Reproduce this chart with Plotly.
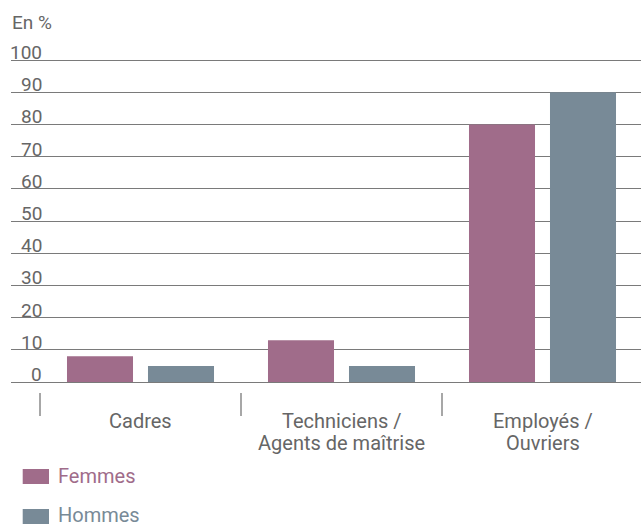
import plotly.graph_objects as go

categories = ["Cadres", "Techniciens /\nAgents de maîtrise", "Employés /\nOuvriers"]
series_names = ["Femmes", "Hommes"]
femmes = [8, 13, 80]
hommes = [5, 5, 90]
y_ticks = [0, 10, 20, 30, 40, 50, 60, 70, 80, 90, 100]
unit_label = "En %"

colors = {"Femmes": "#a06c8a", "Hommes": "#788a97"}
text_gray = "#666666"
font_family = "Roboto, DejaVu Sans, sans-serif"

W, H = 641, 524
ML, MR, MT, MB = 11, 0, 50, 142
PW, PH = W - ML - MR, H - MT - MB
CAT_PX = 201.0
Y0_PX, Y100_PX = H - MB, 60.0
UNIT_PX = (Y0_PX - Y100_PX) / 100.0
Y_TOP = (Y0_PX - MT) / UNIT_PX  # range top so that 100 sits at the reference position


def px_x(X):
    return (X - ML) / PW


def px_y(Y):
    return (H - MB - Y) / PH


x_idx = list(range(len(categories)))
x_left = -0.5 - (40 - ML) / CAT_PX
x_right = x_left + PW / CAT_PX

fig = go.Figure()
for name, vals in zip(series_names, [femmes, hommes]):
    fig.add_trace(go.Bar(x=x_idx, y=vals, name=name, marker=dict(color=colors[name], line=dict(width=0)),
                         showlegend=False))

shapes = []
# category separator ticks
for i in range(len(categories)):
    shapes.append(dict(type="line", xref="x", yref="paper", x0=i - 0.5, x1=i - 0.5,
                       y0=px_y(393), y1=px_y(416), line=dict(color="#8a8a8a", width=1.5)))
# legend swatches
leg_rows = [(469, 484), (509, 524)]
for name, (t, b) in zip(series_names, leg_rows):
    shapes.append(dict(type="rect", xref="paper", yref="paper", x0=px_x(22.7), x1=px_x(49),
                       y0=px_y(b), y1=px_y(t), fillcolor=colors[name], line=dict(width=0)))

annotations = []
# y tick labels
for v in y_ticks:
    annotations.append(dict(x=px_x(43.5), xref="paper", y=v, yref="y", text=str(v), showarrow=False,
                            xanchor="right", yanchor="middle", yshift=7.5,
                            font=dict(family=font_family, size=19, color=text_gray)))
# unit label
annotations.append(dict(x=px_x(10), xref="paper", y=px_y(22), yref="paper", text=unit_label, showarrow=False,
                        xanchor="left", yanchor="middle",
                        font=dict(family=font_family, size=19, color=text_gray)))
# category labels
line_y = [421, 443]
for i, cat in enumerate(categories):
    for j, line in enumerate(cat.split("\n")):
        annotations.append(dict(x=i, xref="x", y=px_y(line_y[j]), yref="paper", text=line, showarrow=False,
                                xanchor="center", yanchor="middle",
                                font=dict(family=font_family, size=20, color=text_gray)))
# legend labels
leg_text_y = [476, 515]
for name, yy in zip(series_names, leg_text_y):
    annotations.append(dict(x=px_x(56), xref="paper", y=px_y(yy), yref="paper", text=name, showarrow=False,
                            xanchor="left", yanchor="middle",
                            font=dict(family=font_family, size=20, color=colors[name])))

fig.update_layout(
    width=W, height=H,
    margin=dict(l=ML, r=MR, t=MT, b=MB, pad=0),
    paper_bgcolor="white", plot_bgcolor="white",
    barmode="group", bargap=0.194, bargroupgap=0.185,
    xaxis=dict(range=[x_left, x_right], showticklabels=False, showgrid=False, zeroline=False,
               showline=False, ticks="", fixedrange=True),
    yaxis=dict(range=[0, Y_TOP], tickvals=y_ticks, showticklabels=False, showgrid=True,
               gridcolor="#7a7a7a", gridwidth=1, zeroline=True, zerolinecolor="#7a7a7a",
               zerolinewidth=1, showline=False, ticks="", fixedrange=True),
    shapes=shapes,
    annotations=annotations,
    showlegend=False,
)

fig.write_html("out.html", config={"displayModeBar": False},
               post_script="document.body.style.margin='0px';document.body.style.overflow='hidden';")
